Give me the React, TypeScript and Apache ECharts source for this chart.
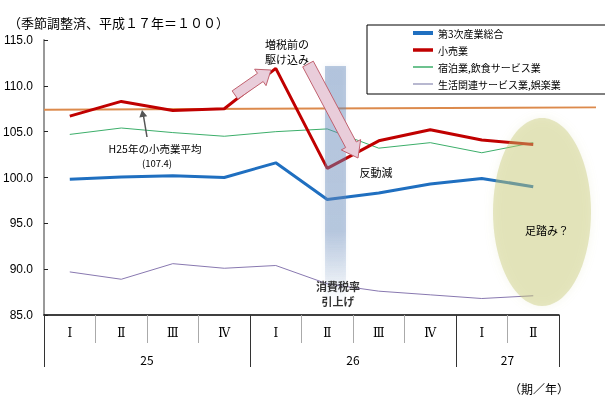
import React, { useEffect, useRef } from 'react';
import * as echarts from 'echarts';

const quarters = ['Ⅰ', 'Ⅱ', 'Ⅲ', 'Ⅳ', 'Ⅰ', 'Ⅱ', 'Ⅲ', 'Ⅳ', 'Ⅰ', 'Ⅱ'];
const years = ['25', '26', '27'];
const yearStartIdx = [0, 4, 8];
const yearLabelPos = [2, 6, 9];
const seriesNames = ['第3次産業総合', '小売業', '宿泊業,飲食サービス業', '生活関連サービス業,娯楽業'];
const tertiary = [99.8, 100.05, 100.2, 100.0, 101.6, 97.6, 98.3, 99.3, 99.9, 99.0];
const retail = [106.7, 108.3, 107.3, 107.5, 111.9, 101.0, 104.0, 105.2, 104.1, 103.6];
const lodging = [104.7, 105.4, 104.9, 104.5, 105.0, 105.3, 103.2, 103.8, 102.7, 103.8];
const living = [89.7, 88.9, 90.6, 90.1, 90.4, 88.4, 87.6, 87.2, 86.8, 87.1];
const retailAvgH25 = [107.4, 107.65];

const FONT = '"Noto Sans CJK JP", "Liberation Sans", sans-serif';

function arrowPoly(x1: number, y1: number, x2: number, y2: number, sw: number, hw: number, hl: number) {
  const dx = x2 - x1, dy = y2 - y1;
  const L = Math.hypot(dx, dy);
  const ux = dx / L, uy = dy / L;
  const nx = -uy, ny = ux;
  const bx = x2 - ux * hl, by = y2 - uy * hl;
  return [
    [x1 + nx * sw, y1 + ny * sw],
    [bx + nx * sw, by + ny * sw],
    [bx + nx * hw, by + ny * hw],
    [x2, y2],
    [bx - nx * hw, by - ny * hw],
    [bx - nx * sw, by - ny * sw],
    [x1 - nx * sw, y1 - ny * sw],
  ];
}

// legend icon: a horizontal bar of given thickness inside a 20x10 box
const barIcon = (t: number) => `path://M0,0M0,${5 - t / 2}H20V${5 + t / 2}H0ZM20,10`;

export default function App() {
  const ref = useRef<HTMLDivElement>(null);
  useEffect(() => {
    if (!ref.current) return;
    const chart = echarts.init(ref.current, null, { renderer: 'svg' });
    const txt = (x: number, y: number, text: string, extra: any = {}) => ({
      type: 'text', x, y, z: 30,
      style: { text, fontSize: 11, fontFamily: FONT, fill: '#000', align: 'center', verticalAlign: 'middle', ...extra },
    });
    chart.setOption({
      animation: false,
      textStyle: { fontFamily: FONT },
      grid: [
        { left: 44, right: 46, top: 40, bottom: 84 },
        { left: 44, right: 9, top: 40, bottom: 84 },
      ],
      legend: {
        data: [
          { name: seriesNames[0], icon: barIcon(4), itemStyle: { color: '#1f6fc0' } },
          { name: seriesNames[1], icon: barIcon(3.5), itemStyle: { color: '#c00000' } },
          { name: seriesNames[2], icon: barIcon(1.5), itemStyle: { color: '#3cae6a' } },
          { name: seriesNames[3], icon: barIcon(2), itemStyle: { color: '#b8b8d0' } },
        ],
        orient: 'vertical',
        left: 367,
        top: 25,
        padding: [3, 46, 5, 46],
        itemWidth: 20,
        itemHeight: 10,
        itemGap: 7,
        borderColor: '#000',
        borderWidth: 1,
        backgroundColor: '#fff',
        textStyle: { fontSize: 10, color: '#000', fontFamily: FONT },
        z: 20,
      },
      xAxis: [
        {
          type: 'category', gridIndex: 0, data: quarters, position: 'bottom',
          axisLine: { show: true, lineStyle: { color: '#000', width: 1.5 } },
          axisTick: { show: true, length: 28, lineStyle: { color: '#aaa' } },
          axisLabel: { margin: 12, fontSize: 12, color: '#000', fontFamily: '"DejaVu Serif", serif' },
        },
        {
          type: 'category', gridIndex: 0, data: quarters, position: 'bottom',
          axisLine: { show: false },
          axisTick: { show: true, length: 52, interval: (i: number) => yearStartIdx.includes(i), lineStyle: { color: '#333' } },
          axisLabel: { show: false },
        },
        {
          type: 'value', gridIndex: 0, min: 0, max: 10, interval: 1, position: 'bottom',
          axisLine: { show: false }, axisTick: { show: false }, splitLine: { show: false },
          axisLabel: {
            margin: 38, fontSize: 12, color: '#000', fontFamily: FONT,
            formatter: (v: number) => { const i = yearLabelPos.indexOf(v); return i >= 0 ? years[i] : ''; },
          },
        },
        { type: 'value', gridIndex: 1, min: 0, max: 1, show: false },
      ],
      yAxis: [
        {
          type: 'value', gridIndex: 0, min: 85, max: 115, interval: 5,
          axisLine: { show: true, lineStyle: { color: '#999', width: 2 } },
          axisTick: { show: true, inside: true, length: 4, lineStyle: { color: '#222' } },
          splitLine: { show: false },
          axisLabel: { margin: 11, fontSize: 12, color: '#000', fontFamily: '"Liberation Sans", sans-serif', formatter: (v: number) => v.toFixed(1) },
        },
        { type: 'value', gridIndex: 1, min: 85, max: 115, show: false },
      ],
      series: [
        {
          name: 'H25平均', type: 'line', xAxisIndex: 3, yAxisIndex: 1, symbol: 'none', z: 1,
          data: [[0, retailAvgH25[0]], [1, retailAvgH25[1]]],
          lineStyle: { color: '#dc8a4c', width: 2 },
        },
        { name: seriesNames[2], type: 'line', data: lodging, symbol: 'none', lineStyle: { color: '#3cae6a', width: 1 }, itemStyle: { color: '#3cae6a' } },
        { name: seriesNames[3], type: 'line', data: living, symbol: 'none', lineStyle: { color: '#8878b0', width: 1 }, itemStyle: { color: '#8878b0' } },
        { name: seriesNames[0], type: 'line', data: tertiary, symbol: 'none', lineStyle: { color: '#1f6fc0', width: 3 }, itemStyle: { color: '#1f6fc0' } },
        { name: seriesNames[1], type: 'line', data: retail, symbol: 'none', lineStyle: { color: '#c00000', width: 3 }, itemStyle: { color: '#c00000' } },
      ],
      graphic: [
        {
          type: 'rect', z: 10, shape: { x: 325, y: 66, width: 21, height: 236 },
          style: {
            fill: new echarts.graphic.LinearGradient(0, 0, 0, 1, [
              { offset: 0, color: 'rgba(100,135,185,0.42)' },
              { offset: 0.7, color: 'rgba(100,135,185,0.4)' },
              { offset: 1, color: 'rgba(100,135,185,0)' },
            ]),
            shadowBlur: 4, shadowColor: 'rgba(100,135,185,0.3)',
          },
        },
        {
          type: 'ellipse', z: 10, shape: { cx: 542, cy: 212, rx: 49, ry: 94 },
          style: { fill: 'rgba(195,198,110,0.4)', shadowBlur: 10, shadowColor: 'rgba(195,198,110,0.35)' },
        },
        {
          type: 'polygon', z: 12, shape: { points: arrowPoly(235, 95, 271, 70, 5, 10, 13) },
          style: { fill: '#e9cdda', stroke: '#c0606e', lineWidth: 1 },
        },
        {
          type: 'polygon', z: 12, shape: { points: arrowPoly(308, 64, 358, 158, 6, 11, 15) },
          style: { fill: '#e9cdda', stroke: '#c0606e', lineWidth: 1 },
        },
        { type: 'line', z: 12, shape: { x1: 147, y1: 137, x2: 143.5, y2: 116 }, style: { stroke: '#555', lineWidth: 1.5 } },
        { type: 'polygon', z: 12, shape: { points: arrowPoly(147, 137, 142, 110, 1, 4, 7).slice(1, 6) }, style: { fill: '#555' } },
        txt(8, 22, '（季節調整済、平成１７年＝１００）', { fontSize: 13, align: 'left' }),
        txt(287, 44, '増税前の'),
        txt(287, 59, '駆け込み'),
        txt(155, 148, 'H25年の小売業平均', { fontSize: 10.5 }),
        txt(157, 163, '(107.4)', { fontSize: 9.5 }),
        txt(376, 172, '反動減'),
        txt(338, 286, '消費税率', { fontWeight: 'bold', fill: '#333', fontSize: 11 }),
        txt(338, 301, '引上げ', { fontWeight: 'bold', fill: '#333', fontSize: 11 }),
        txt(547, 230, '足踏み？'),
        txt(539, 388, '（期／年）', { fontSize: 12 }),
      ],
    });
    return () => chart.dispose();
  }, []);
  return <div ref={ref} style={{ position: 'fixed', left: 0, top: 0, width: 605, height: 399 }} />;
}
